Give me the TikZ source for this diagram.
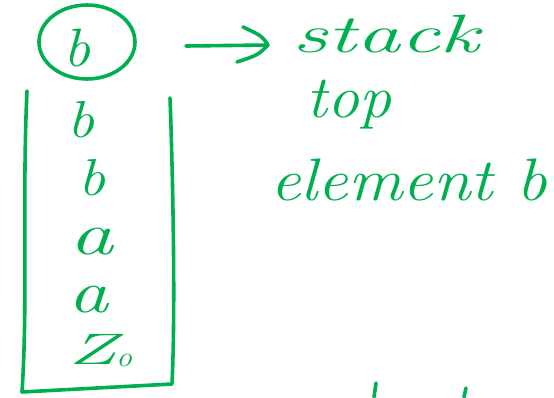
\documentclass[tikz,border=0pt]{standalone}
\definecolor{ink}{RGB}{0,176,80}
\begin{document}
\begin{tikzpicture}[x=1pt,y=-1pt,
  pen/.style={draw=ink,line width=3.6pt,line cap=round,line join=round},
  hand/.style={text=ink,font=\fontsize{40}{44}\selectfont\itshape,inner sep=0pt,anchor=base},
  label/.style={hand,anchor=base west}]
\useasboundingbox (0,0) rectangle (554,397);
% circled top symbol
\node[hand] (topb) at (77,66) {\scalebox{1.5}[1.35]{b}};
\draw[pen] (87,42) ellipse[x radius=48,y radius=37];
% arrow
\coordinate (as) at (186,46);
\coordinate (ae) at (268,45);
\draw[pen] (as) -- (ae);
\draw[pen] (243,27) .. controls (262,36) .. (ae) .. controls (258,55) .. (237,62);
% labels
\node[label] (stack) at (292,52) {\scalebox{2.2}[1.35]{stack}};
\node[label] (top) at (306,117) {\scalebox{1.6}[1.5]{top}};
\node[label] (elem) at (270,200) {\scalebox{1.7}[1.5]{element b}};
% stack box
\coordinate (tl) at (27,91);
\coordinate (bl) at (22,392);
\coordinate (br) at (172,384);
\coordinate (tr) at (170,98);
\draw[pen] (tl) .. controls (22,200) and (28,300) .. (bl) -- (br) .. controls (176,300) and (172,150) .. (tr);
% contents
\node[hand] (s1) at (81,137) {\scalebox{1.5}[1.3]{b}};
\node[hand] (s2) at (92,195) {\scalebox{1.5}[1.3]{b}};
\node[hand] (s3) at (91,254) {\scalebox{2.2}[1.5]{a}};
\node[hand] (s4) at (88,312) {\scalebox{2}[1.5]{a}};
\node[hand] (s5) at (100,364) {\scalebox{2}[1.1]{Z}\raisebox{-2pt}{\scalebox{0.8}[0.7]{o}}};
% bottom fragments
\draw[pen] (376,383) -- (374,397);
\draw[pen] (466,388) -- (464,397);
\end{tikzpicture}
\end{document}
